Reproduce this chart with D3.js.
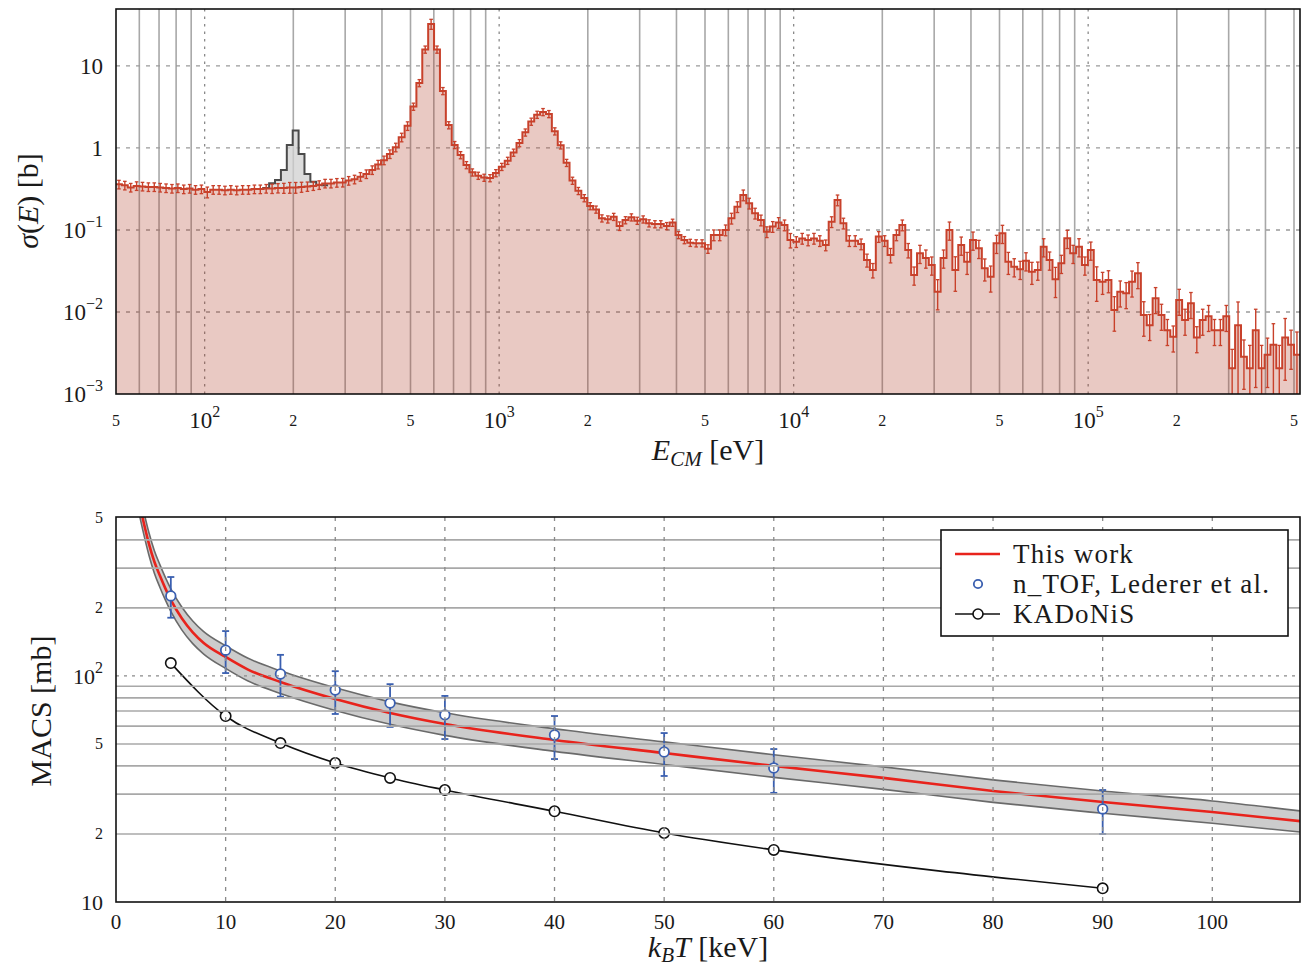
<!DOCTYPE html>
<html><head><meta charset="utf-8">
<script src="https://cdn.jsdelivr.net/npm/d3@7"></script>
<style>
body{margin:0;background:#fff}
svg{display:block}
text{font-family:"Liberation Serif","DejaVu Serif",serif;fill:#1a1a1a}
</style>
</head><body>
<svg id="c" width="1307" height="969"></svg>
<script>
// ---------------- DATA ----------------
// Top panel: histogram, log-spaced bins starting at 50 eV, 50 bins per decade
const binStartEnergy = 50;
const binsPerDecade = 50;
const sigmaTotal = [
0.36,0.35,0.33,0.345,0.34,0.335,0.335,0.33,0.325,0.32,
0.325,0.315,0.32,0.31,0.315,0.29,0.31,0.31,0.305,0.31,
0.305,0.31,0.31,0.315,0.315,0.32,0.32,0.325,0.325,0.33,
0.33,0.335,0.34,0.345,0.355,0.37,0.37,0.378,0.38,0.40,
0.415,0.447,0.482,0.54,0.63,0.71,0.845,1.02,1.35,1.86,
3.2,6.2,15.9,32.5,15.9,4.96,1.9,1.09,0.82,0.62,
0.505,0.46,0.435,0.43,0.495,0.59,0.70,0.88,1.15,1.55,
2.1,2.55,2.75,2.6,1.6,1.08,0.66,0.40,0.30,0.245,
0.196,0.178,0.139,0.135,0.145,0.112,0.132,0.143,0.13,0.135,
0.121,0.118,0.118,0.112,0.123,0.087,0.0755,0.070,0.069,0.069,
0.059,0.087,0.087,0.10,0.139,0.192,0.267,0.212,0.16,0.132,
0.095,0.11,0.123,0.115,0.0755,0.072,0.079,0.0755,0.079,0.074,
0.0656,0.126,0.232,0.121,0.074,0.074,0.0675,0.043,0.0325,0.083,
0.074,0.0496,0.087,0.115,0.057,0.0283,0.052,0.0456,0.0375,0.0177,
0.0456,0.10,0.0325,0.0656,0.041,0.0755,0.0598,0.0341,0.0269,0.0689,
0.0912,0.041,0.0357,0.0332,0.0422,0.031,0.0325,0.0626,0.0431,0.025,
0.0393,0.0792,0.052,0.0626,0.0375,0.057,0.0245,0.0234,0.0245,0.0106,
0.0177,0.0169,0.0234,0.0296,0.0092,0.0069,0.0147,0.0092,0.006,0.005,
0.014,0.008,0.0128,0.0049,0.008,0.0089,0.006,0.006,0.0089,0.00206,
0.0069,0.00285,0.00206,0.006,0.00206,0.003,0.004,0.00206,0.0049,0.004,0.003
];
const sigmaRelErr = [
0.12,0.12,0.12,0.12,0.12,0.12,0.12,0.12,0.12,0.12,
0.12,0.12,0.12,0.12,0.12,0.15,0.12,0.12,0.12,0.12,
0.12,0.12,0.12,0.12,0.12,0.12,0.13,0.13,0.14,0.15,
0.15,0.14,0.13,0.12,0.12,0.12,0.12,0.12,0.12,0.12,
0.12,0.12,0.12,0.12,0.12,0.12,0.12,0.12,0.12,0.12,
0.10,0.10,0.10,0.14,0.10,0.10,0.10,0.10,0.10,0.10,
0.10,0.10,0.10,0.10,0.10,0.10,0.10,0.10,0.10,0.10,
0.10,0.10,0.10,0.10,0.10,0.10,0.10,0.10,0.10,0.10,
0.10,0.10,0.10,0.10,0.10,0.12,0.10,0.10,0.10,0.10,
0.10,0.10,0.10,0.10,0.10,0.10,0.10,0.10,0.10,0.10,
0.12,0.15,0.15,0.15,0.15,0.15,0.15,0.15,0.15,0.15,
0.15,0.15,0.15,0.15,0.2,0.15,0.15,0.15,0.15,0.15,
0.15,0.15,0.15,0.15,0.15,0.15,0.15,0.18,0.2,0.15,
0.15,0.2,0.15,0.15,0.2,0.25,0.25,0.25,0.25,0.4,
0.25,0.25,0.45,0.25,0.3,0.25,0.25,0.3,0.35,0.25,
0.25,0.3,0.25,0.25,0.25,0.3,0.25,0.25,0.25,0.4,
0.25,0.25,0.25,0.25,0.25,0.25,0.45,0.3,0.3,0.45,
0.35,0.35,0.35,0.35,0.45,0.35,0.35,0.35,0.35,0.35,
0.35,0.35,0.35,0.35,0.35,0.35,0.35,0.35,0.35,0.7,
0.92,0.6,0.9,0.8,0.9,0.6,0.8,0.9,0.7,0.5,0.9
];
// second (grey) component, visible only around 200 eV
const grayFirstBin = 24;
const sigmaOther = [0.315,0.325,0.371,0.407,0.539,1.09,1.63,0.845,0.482,0.388,0.354,0.35];

// Top panel tick labels
const topYTicks = [0.001,0.01,0.1,1,10];
const topYLabels = [["10","−3"],["10","−2"],["10","−1"],["1",""],["10",""]];
const topXMajorTicks = [100,1000,10000,100000];
const topXMajorExp = ["2","3","4","5"];
const topXMinorTicks = [50,200,500,2000,5000,20000,50000,200000,500000];
const topXMinorLabels = ["5","2","5","2","5","2","5","2","5"];

// Bottom panel: MACS vs kT
const kTgrid      = [2.0,2.43,3,3.5,4,4.5,5,6,7,8,10,12,15,20,25,30,40,50,60,70,80,90,100,108];
const macsThisWork= [620,500,385,320,278,244,217,180,156,140,121.4,107,94.1,79.1,68.6,61.3,52.1,45.6,40.0,35.4,31.0,27.7,25.0,22.8];
const macsHigh    = [694,560,431,358,311,273,243,202,175,157,136,120,105.4,88.6,76.8,68.7,58.4,51.1,44.8,39.6,34.7,31.0,28.0,25.3];
const macsLow     = [552,445,343,285,247,217,193,160,139,125,108,95.2,83.7,70.4,61.1,54.6,46.4,40.6,35.6,31.5,27.6,24.7,22.3,20.4];

const ntofKT      = [5,10,15,20,25,30,40,50,60,90];
const ntofMACS    = [226,130,102,86.7,75.9,67.3,54.8,46.1,39.2,25.8];
const ntofUpper   = [274,158,124,105,92,81.6,66.5,55.9,47.5,31.3];
const ntofLower   = [181,103,81,67.9,59.5,52.6,42.9,36.1,30.4,20.0];

const kadonisKT   = [5,10,15,20,25,30,40,50,60,90];
const kadonisMACS = [114,66.5,50.5,41.2,35.4,31.3,25.2,20.2,17.0,11.5];

const botXTicks = [0,10,20,30,40,50,60,70,80,90,100];
const botYTicks = [10,20,50,100,200,500];
const botYLabels = [["10",""],["2",""],["5",""],["10","2"],["2",""],["5",""]];

const legendLabels = ["This work","n_TOF, Lederer et al.","KADoNiS"];

// ---------------- DRAW ----------------
const svg = d3.select("#c");
const defs = svg.append("defs");

// ===== TOP PANEL =====
const T = {l:116, r:1300, t:9, b:394};
const xT = d3.scaleLog().domain([50, 5.24e5]).range([T.l, T.r]);
const yT = d3.scaleLog().domain([1e-3, 49.5]).range([T.b, T.t]);
defs.append("clipPath").attr("id","clipT").append("rect")
  .attr("x",T.l).attr("y",T.t).attr("width",T.r-T.l).attr("height",T.b-T.t);

const gT = svg.append("g");
// grid
xT.ticks().forEach(v=>{
  if (v<=50) return;
  const isMajor = topXMajorTicks.some(m=>Math.abs(m-v)/m<1e-6);
  gT.append("line").attr("x1",xT(v)).attr("x2",xT(v)).attr("y1",T.t).attr("y2",T.b)
    .attr("stroke", isMajor? "#8a8a8a":"#a8a8a8")
    .attr("stroke-width", isMajor?1.3:1.6)
    .attr("stroke-dasharray", isMajor? "2.5,5":null);
});
topYTicks.slice(1).forEach(v=>{
  gT.append("line").attr("x1",T.l).attr("x2",T.r).attr("y1",yT(v)).attr("y2",yT(v))
    .attr("stroke","#9a9a9a").attr("stroke-width",1.3).attr("stroke-dasharray","4,6");
});

// histogram geometry
const nb = sigmaTotal.length;
const edges = d3.range(nb+1).map(i=>binStartEnergy*Math.pow(10,i/binsPerDecade));
const stepPts = sigmaTotal.map((v,i)=>[edges[i],v]);
stepPts.push([edges[nb], sigmaTotal[nb-1]]);

const gH = gT.append("g").attr("clip-path","url(#clipT)");
// red fill
gH.append("path").datum(stepPts)
  .attr("d", d3.area().x(d=>xT(d[0])).y0(T.b).y1(d=>yT(d[1])).curve(d3.curveStepAfter))
  .attr("fill","#af3c28").attr("fill-opacity",0.28);

// grey component (between total and grey values)
const gPts = sigmaOther.map((v,j)=>({e:edges[grayFirstBin+j], g:v, r:sigmaTotal[grayFirstBin+j]}));
const lastG = grayFirstBin+sigmaOther.length;
gPts.push({e:edges[lastG], g:sigmaOther[sigmaOther.length-1], r:sigmaTotal[lastG-1]});
gH.append("path").datum(gPts)
  .attr("d", d3.area().x(d=>xT(d.e)).y0(d=>yT(d.r)).y1(d=>yT(d.g)).curve(d3.curveStepAfter))
  .attr("fill","#d0d0d0").attr("fill-opacity",0.75);
gH.append("path").datum(gPts)
  .attr("d", d3.line().x(d=>xT(d.e)).y(d=>yT(d.g)).curve(d3.curveStepAfter))
  .attr("fill","none").attr("stroke","#4a4a4a").attr("stroke-width",2);

// red step line
gH.append("path").datum(stepPts)
  .attr("d", d3.line().x(d=>xT(d[0])).y(d=>yT(d[1])).curve(d3.curveStepAfter))
  .attr("fill","none").attr("stroke","#c8412b").attr("stroke-width",2);
// error bars
sigmaTotal.forEach((v,i)=>{
  const xc = xT(Math.sqrt(edges[i]*edges[i+1]));
  const e = sigmaRelErr[i];
  const hi = yT(v*(1+e));
  const lo = yT(Math.max(v*(1-e), 1e-4));
  gH.append("line").attr("x1",xc).attr("x2",xc).attr("y1",hi).attr("y2",lo)
    .attr("stroke","#c8412b").attr("stroke-width",1.4);
  [hi,lo].forEach(y=>gH.append("line").attr("x1",xc-1.8).attr("x2",xc+1.8).attr("y1",y).attr("y2",y)
    .attr("stroke","#c8412b").attr("stroke-width",1.3));
});
// frame
gT.append("rect").attr("x",T.l).attr("y",T.t).attr("width",T.r-T.l).attr("height",T.b-T.t)
  .attr("fill","none").attr("stroke","#111").attr("stroke-width",1.6);

// y tick labels
topYTicks.forEach((v,i)=>{
  const t = gT.append("text").attr("x",103).attr("y",yT(v)+8).attr("text-anchor","end")
    .attr("font-size",23);
  t.append("tspan").text(topYLabels[i][0]);
  if (topYLabels[i][1]) t.append("tspan").attr("font-size",16).attr("dy",-11).text(topYLabels[i][1]);
});
// x tick labels
topXMajorTicks.forEach((v,i)=>{
  const t = gT.append("text").attr("x",xT(v)).attr("y",428).attr("text-anchor","middle").attr("font-size",23);
  t.append("tspan").text("10");
  t.append("tspan").attr("font-size",16).attr("dy",-11).text(topXMajorExp[i]);
});
topXMinorTicks.forEach((v,i)=>{
  gT.append("text").attr("x",xT(v)).attr("y",426).attr("text-anchor","middle").attr("font-size",16)
    .text(topXMinorLabels[i]);
});
// axis titles
{
  const t = gT.append("text").attr("x",708).attr("y",460).attr("text-anchor","middle").attr("font-size",30);
  t.append("tspan").attr("font-style","italic").text("E");
  t.append("tspan").attr("font-style","italic").attr("font-size",21).attr("dy",6).text("CM");
  t.append("tspan").attr("dy",-6).text(" [eV]");
  const ty = gT.append("text").attr("transform","translate(38,201) rotate(-90)").attr("text-anchor","middle").attr("font-size",30);
  ty.append("tspan").attr("font-style","italic").text("σ");
  ty.append("tspan").text("(");
  ty.append("tspan").attr("font-style","italic").text("E");
  ty.append("tspan").text(") [b]");
}

// ===== BOTTOM PANEL =====
const B = {l:116, r:1300, t:517, b:902};
const xB = d3.scaleLinear().domain([0,108]).range([B.l,B.r]);
const yB = d3.scaleLog().domain([10,505]).range([B.b,B.t]);
defs.append("clipPath").attr("id","clipB").append("rect")
  .attr("x",B.l).attr("y",B.t).attr("width",B.r-B.l).attr("height",B.b-B.t);
const gB = svg.append("g");
const gBc = gB.append("g").attr("clip-path","url(#clipB)");

// band fill (under grid, semi-transparent)
const bandData = kTgrid.map((k,i)=>({k, lo:macsLow[i], hi:macsHigh[i], v:macsThisWork[i]}));
gBc.append("path").datum(bandData)
  .attr("d", d3.area().x(d=>xB(d.k)).y0(d=>yB(d.lo)).y1(d=>yB(d.hi)).curve(d3.curveMonotoneX))
  .attr("fill","#b8b8b8").attr("fill-opacity",0.72);

// grid
yB.ticks().forEach(v=>{
  if (v<=10 || v>=500) return;
  const major = Math.abs(v-100)<1e-6;
  gB.append("line").attr("x1",B.l).attr("x2",B.r).attr("y1",yB(v)).attr("y2",yB(v))
    .attr("stroke", major?"#8a8a8a":"#a8a8a8").attr("stroke-width", major?1.3:1.6)
    .attr("stroke-dasharray", major?"3,5":null);
});
botXTicks.slice(1).forEach(v=>{
  gB.append("line").attr("x1",xB(v)).attr("x2",xB(v)).attr("y1",B.t).attr("y2",B.b)
    .attr("stroke","#8a8a8a").attr("stroke-width",1.3).attr("stroke-dasharray","4,6");
});
// band edges
["lo","hi"].forEach(key=>{
  gBc.append("path").datum(bandData)
    .attr("d", d3.line().x(d=>xB(d.k)).y(d=>yB(d[key])).curve(d3.curveMonotoneX))
    .attr("fill","none").attr("stroke","#6a6a6a").attr("stroke-width",1.6);
});
// this work
gBc.append("path").datum(bandData)
  .attr("d", d3.line().x(d=>xB(d.k)).y(d=>yB(d.v)).curve(d3.curveMonotoneX))
  .attr("fill","none").attr("stroke","#e8231c").attr("stroke-width",2.6);

// KADoNiS
const kad = kadonisKT.map((k,i)=>[k,kadonisMACS[i]]);
gBc.append("path").datum(kad)
  .attr("d", d3.line().x(d=>xB(d[0])).y(d=>yB(d[1])).curve(d3.curveMonotoneX))
  .attr("fill","none").attr("stroke","#111").attr("stroke-width",1.6);
kad.forEach(d=>gBc.append("circle").attr("cx",xB(d[0])).attr("cy",yB(d[1])).attr("r",5.2)
  .attr("fill","#fff").attr("stroke","#111").attr("stroke-width",1.6));

// n_TOF
ntofKT.forEach((k,i)=>{
  const x = xB(k);
  gBc.append("line").attr("x1",x).attr("x2",x).attr("y1",yB(ntofUpper[i])).attr("y2",yB(ntofLower[i]))
    .attr("stroke","#3a5fb0").attr("stroke-width",1.8);
  [ntofUpper[i],ntofLower[i]].forEach(v=>gBc.append("line").attr("x1",x-3.5).attr("x2",x+3.5)
    .attr("y1",yB(v)).attr("y2",yB(v)).attr("stroke","#3a5fb0").attr("stroke-width",1.8));
  gBc.append("circle").attr("cx",x).attr("cy",yB(ntofMACS[i])).attr("r",4.8)
    .attr("fill","#fff").attr("stroke","#3a5fb0").attr("stroke-width",1.8);
});

// frame
gB.append("rect").attr("x",B.l).attr("y",B.t).attr("width",B.r-B.l).attr("height",B.b-B.t)
  .attr("fill","none").attr("stroke","#111").attr("stroke-width",1.6);

// ticks labels
botXTicks.forEach(v=>{
  gB.append("text").attr("x",xB(v)).attr("y",929).attr("text-anchor","middle").attr("font-size",21).text(v);
});
botYTicks.forEach((v,i)=>{
  const big = botYLabels[i][0]==="10";
  const t = gB.append("text").attr("x",103).attr("y",yB(v)+(big?8:5)).attr("text-anchor","end")
    .attr("font-size", big?22:16);
  t.append("tspan").text(botYLabels[i][0]);
  if (botYLabels[i][1]) t.append("tspan").attr("font-size",16).attr("dy",-11).text(botYLabels[i][1]);
});
// axis titles
{
  const t = gB.append("text").attr("x",708).attr("y",957).attr("text-anchor","middle").attr("font-size",30);
  t.append("tspan").attr("font-style","italic").text("k");
  t.append("tspan").attr("font-style","italic").attr("font-size",21).attr("dy",5).text("B");
  t.append("tspan").attr("font-style","italic").attr("dy",-5).text("T");
  t.append("tspan").text(" [keV]");
  gB.append("text").attr("transform","translate(51,711) rotate(-90)").attr("text-anchor","middle")
    .attr("font-size",30).text("MACS [mb]");
}

// legend
const gL = gB.append("g");
gL.append("rect").attr("x",941).attr("y",530).attr("width",347).attr("height",106)
  .attr("fill","#fff").attr("stroke","#111").attr("stroke-width",1.6);
const ly = [554,584,614];
gL.append("line").attr("x1",955).attr("x2",1000).attr("y1",ly[0]).attr("y2",ly[0]).attr("stroke","#e8231c").attr("stroke-width",2.6);
gL.append("circle").attr("cx",978).attr("cy",ly[1]).attr("r",4.2).attr("fill","#fff").attr("stroke","#3a5fb0").attr("stroke-width",1.8);
gL.append("line").attr("x1",955).attr("x2",1000).attr("y1",ly[2]).attr("y2",ly[2]).attr("stroke","#111").attr("stroke-width",1.6);
gL.append("circle").attr("cx",978).attr("cy",ly[2]).attr("r",5).attr("fill","#fff").attr("stroke","#111").attr("stroke-width",1.6);
legendLabels.forEach((s,i)=>{
  gL.append("text").attr("x",1013).attr("y",ly[i]+9).attr("font-size",27)
    .attr("letter-spacing",1.2).text(s);
});
</script>
</body></html>
